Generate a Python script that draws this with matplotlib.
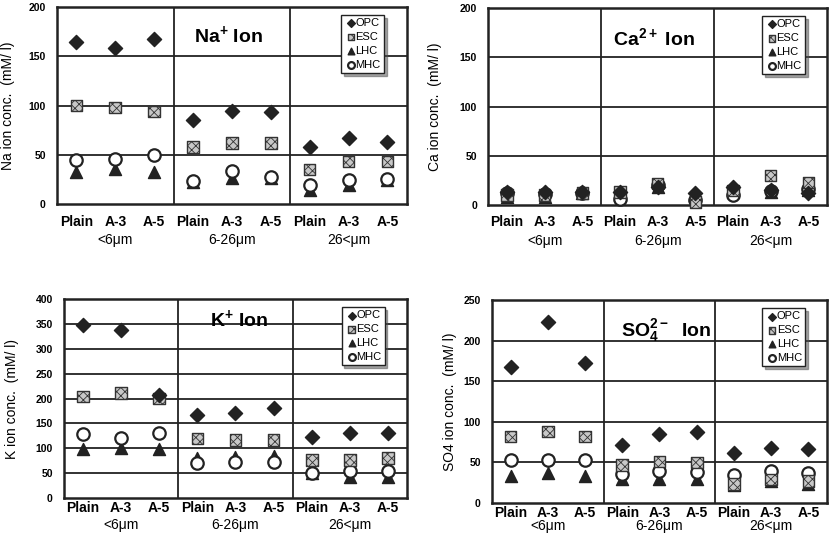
"""plot.py - ion concentration in pore solution, four panels (Na, Ca, K, SO4)."""

import numpy as np
import matplotlib
matplotlib.use('Agg')
import matplotlib.pyplot as plt

plt.rcParams.update({
    'font.family':     ['Liberation Sans', 'DejaVu Sans'],
    'mathtext.default': 'regular',
    'hatch.linewidth':  0.6,
    'hatch.color':      '#444444',
})

# ── Data ──────────────────────────────────────────────────────────────────────
CATEGORIES = ['Plain', 'A-3', 'A-5'] * 3
GROUPS     = ['<6\u03bcm', '6-26\u03bcm', '26<\u03bcm']
SERIES     = ['OPC', 'ESC', 'LHC', 'MHC']

NA_OPC = [165, 158, 168, 85, 94, 93, 58, 67, 63]
NA_ESC = [100, 98, 94, 58, 62, 62, 35, 43, 43]
NA_LHC = [32, 36, 33, 22, 26, 26, 14, 19, 24]
NA_MHC = [45, 46, 50, 23, 34, 27, 19, 24, 25]

CA_OPC = [13, 13, 13, 13, 18, 12, 18, 15, 12]
CA_ESC = [10, 10, 12, 13, 22, 3, 15, 30, 23]
CA_LHC = [8, 8, 12, 10, 18, 10, 13, 13, 15]
CA_MHC = [12, 11, 12, 6, 20, 5, 10, 14, 16]

K_OPC = [348, 338, 208, 167, 172, 181, 122, 130, 130]
K_ESC = [204, 211, 200, 120, 117, 117, 77, 77, 80]
K_LHC = [98, 100, 98, 80, 82, 84, 50, 43, 43]
K_MHC = [128, 120, 130, 70, 72, 72, 50, 55, 55]

SO4_OPC = [168, 223, 173, 72, 85, 88, 61, 68, 66]
SO4_ESC = [82, 88, 82, 47, 51, 50, 23, 29, 27]
SO4_LHC = [33, 37, 33, 29, 29, 30, 22, 27, 23]
SO4_MHC = [53, 53, 53, 36, 39, 38, 35, 39, 37]

# ── Styles ────────────────────────────────────────────────────────────────────
STYLE = {
    'OPC': dict(marker='D', s=52, facecolor='#222222', edgecolor='#222222'),
    'ESC': dict(marker='s', s=70, facecolor='#c8c8c8', edgecolor='#333333',
                hatch='xxxx', linewidths=1.0),
    'LHC': dict(marker='^', s=75, facecolor='#222222', edgecolor='#222222'),
    'MHC': dict(marker='o', s=80, facecolor='white', edgecolor='#222222',
                linewidths=1.6),
}
DRAW_ORDER = ['LHC', 'MHC', 'ESC', 'OPC']


def panel(fig, rect, data, ymax, ystep, title, title_xy, ylabel, label_x,
          cat_off, grp_off):
    ax = fig.add_axes(rect)
    x = np.arange(len(CATEGORIES))
    handles = {}
    for name in DRAW_ORDER:
        handles[name] = ax.scatter(x, data[name], zorder=3, clip_on=False,
                                   label=name, **STYLE[name])

    ax.set_xlim(-0.5, len(CATEGORIES) - 0.5)
    ax.set_ylim(0, ymax)
    ax.set_yticks(np.arange(0, ymax + 1, ystep))
    ax.tick_params(axis='y', length=0, pad=8, labelsize=7.5)
    for t in ax.get_yticklabels():
        t.set_fontweight('bold')
    ax.set_xticks([])
    for y in np.arange(ystep, ymax, ystep):
        ax.axhline(y, color='#222222', lw=1.3, zorder=1)
    for xv in (2.5, 5.5):
        ax.axvline(xv, color='#222222', lw=1.3, zorder=1)
    for sp in ax.spines.values():
        sp.set_linewidth(1.8)
        sp.set_color('#222222')

    # category and group labels below the axes (offsets in points)
    for xi, cat in zip(x, CATEGORIES):
        ax.annotate(cat, (xi, 0), xycoords=('data', 'axes fraction'),
                    xytext=(0, cat_off), textcoords='offset points',
                    ha='center', va='center', fontsize=10, fontweight='bold')
    for gi, grp in enumerate(GROUPS):
        ax.annotate(grp, (3 * gi + 1, 0), xycoords=('data', 'axes fraction'),
                    xytext=(0, grp_off), textcoords='offset points',
                    ha='center', va='center', fontsize=10)

    ax.text(title_xy[0], title_xy[1], title, transform=ax.transAxes,
            ha='center', va='center', fontsize=14, fontweight='bold')

    ax.set_ylabel(ylabel, fontsize=10)
    ax.yaxis.set_label_coords(label_x, 0.5)

    leg = ax.legend([handles[n] for n in SERIES], SERIES,
                    loc='upper right', bbox_to_anchor=(0.935, 0.96),
                    frameon=True, fancybox=False, shadow=True,
                    fontsize=8, handletextpad=-0.2, borderpad=0.3,
                    labelspacing=0.35, handlelength=1.2,
                    markerscale=0.55, borderaxespad=0)
    leg.get_frame().set_edgecolor('#222222')
    leg.get_frame().set_linewidth(1.0)
    leg.set_zorder(5)
    return ax


fig = plt.figure(figsize=(8.33, 5.44), dpi=100)

panel(fig, [0.0684, 0.625, 0.420, 0.362],
      {'OPC': NA_OPC, 'ESC': NA_ESC, 'LHC': NA_LHC, 'MHC': NA_MHC},
      200, 50, 'Na$^{+}$ Ion', (0.49, 0.86),
      'Na ion conc.  (mM/ l)', -0.12, -13, -26)

panel(fig, [0.586, 0.623, 0.407, 0.362],
      {'OPC': CA_OPC, 'ESC': CA_ESC, 'LHC': CA_LHC, 'MHC': CA_MHC},
      200, 50, 'Ca$^{2+}$ Ion', (0.49, 0.85),
      'Ca ion conc.  (mM/ l)', -0.135, -12.5, -25.5)

panel(fig, [0.0768, 0.0846, 0.4118, 0.3654],
      {'OPC': K_OPC, 'ESC': K_ESC, 'LHC': K_LHC, 'MHC': K_MHC},
      400, 50, 'K$^{+}$ Ion', (0.51, 0.9),
      'K ion conc.  (mM/ l)', -0.13, -7, -19.5)

panel(fig, [0.5906, 0.0754, 0.4022, 0.3731],
      {'OPC': SO4_OPC, 'ESC': SO4_ESC, 'LHC': SO4_LHC, 'MHC': SO4_MHC},
      250, 50, 'SO$_4^{2-}$  Ion', (0.52, 0.85),
      'SO4 ion conc.  (mM/ l)', -0.105, -7.5, -16.5)

fig.savefig('out.png', dpi=100)
